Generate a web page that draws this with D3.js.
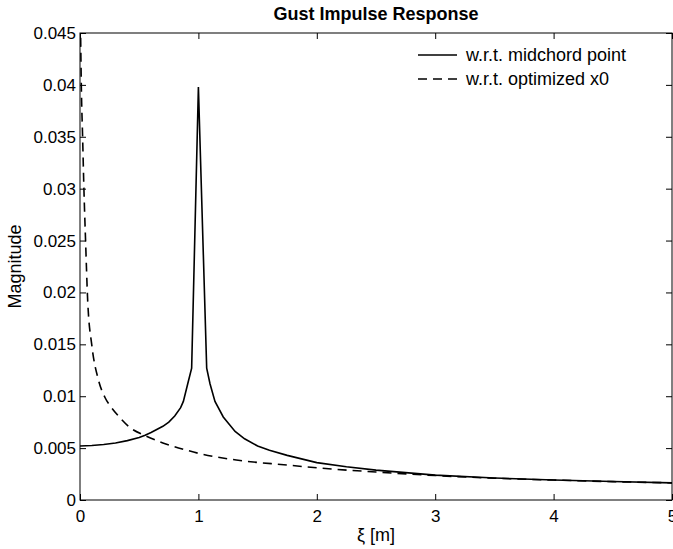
<!DOCTYPE html>
<html>
<head>
<meta charset="utf-8">
<script src="https://cdn.jsdelivr.net/npm/d3@7"></script>
<style>
  body { margin: 0; background: #fff; }
  svg { display: block; font-family: "Liberation Sans", Arial, sans-serif; }
  .tick-label { font-size: 17px; fill: #000; }
</style>
</head>
<body>
<div id="chart"></div>
<script>
// Values
const midX = [0, 0.1, 0.2, 0.3, 0.4, 0.5, 0.55, 0.6, 0.7, 0.75, 0.8, 0.85, 0.873, 0.91, 0.943, 1.0,
    1.07, 1.098, 1.14, 1.21, 1.31, 1.39, 1.5, 1.6, 1.75, 2.0, 2.25, 2.5, 3.0, 3.5, 4.0, 4.5, 5.0];
const midY = [0.0052, 0.00525, 0.00535, 0.0055, 0.00572, 0.00603, 0.00624, 0.0065, 0.0071, 0.0075, 0.0081, 0.0089, 0.0095, 0.0112, 0.0127, 0.0398,
    0.0127, 0.0112, 0.0095, 0.0080, 0.0066, 0.0059, 0.0052, 0.0048, 0.0043, 0.0036, 0.0032, 0.00288, 0.0024, 0.00212, 0.00193, 0.00178, 0.00165];

const optX = [0.004, 0.011, 0.022, 0.033, 0.047, 0.065, 0.1, 0.155, 0.21, 0.26, 0.324, 0.42, 0.55, 0.7, 0.9, 1.0,
    1.32, 1.75, 2.0, 2.5, 3.0, 3.5, 4.0, 4.5, 5.0];
const optY = [0.046, 0.040, 0.035, 0.030, 0.025, 0.0192, 0.0149, 0.0116, 0.0099, 0.0090, 0.0081, 0.0070, 0.0062, 0.0055, 0.0048, 0.0045,
    0.00385, 0.00337, 0.0031, 0.0027, 0.00236, 0.0021, 0.00192, 0.00177, 0.00165];

const xTicks = [0, 1, 2, 3, 4, 5];
const yTicks = [0, 0.005, 0.01, 0.015, 0.02, 0.025, 0.03, 0.035, 0.04, 0.045];
const legendLabels = ['w.r.t. midchord point', 'w.r.t. optimized x0'];

const W = 673, H = 549;
const margin = { top: 33, right: 1, bottom: 49, left: 80 };
const iw = W - margin.left - margin.right;
const ih = H - margin.top - margin.bottom;

const svg = d3.select('#chart').append('svg').attr('width', W).attr('height', H);

const x = d3.scaleLinear().domain([0, 5]).range([0, iw]);
const y = d3.scaleLinear().domain([0, 0.045]).range([ih, 0]);

const g = svg.append('g').attr('transform', `translate(${margin.left},${margin.top})`);

svg.append('defs').append('clipPath').attr('id', 'plot-clip')
    .append('rect').attr('width', iw).attr('height', ih);

const fmtY = d => d === 0 ? '0' : String(+d.toFixed(3));

// Axes: ticks point inward on all four sides
const tickLen = 6;
g.append('g').attr('transform', `translate(0,${ih})`)
    .call(d3.axisBottom(x).tickValues(xTicks).tickSizeInner(-tickLen).tickSizeOuter(0).tickPadding(10).tickFormat(d3.format('d')));
g.append('g').call(d3.axisTop(x).tickValues(xTicks).tickSizeInner(-tickLen).tickSizeOuter(0).tickFormat(''));
g.append('g')
    .call(d3.axisLeft(y).tickValues(yTicks).tickSizeInner(-tickLen).tickSizeOuter(0).tickPadding(4).tickFormat(fmtY));
g.append('g').attr('transform', `translate(${iw},0)`)
    .call(d3.axisRight(y).tickValues(yTicks).tickSizeInner(-tickLen).tickSizeOuter(0).tickFormat(''));

g.selectAll('.tick text').attr('class', 'tick-label').attr('font-family', null).attr('font-size', null);
g.selectAll('.domain').remove();
g.selectAll('.tick line').attr('stroke', '#000');

g.append('rect').attr('width', iw).attr('height', ih)
    .attr('fill', 'none').attr('stroke', '#000').attr('stroke-width', 1);

// Curves
const lineMid = d3.line().x(i => x(midX[i])).y(i => y(midY[i]));
const lineOpt = d3.line().x(i => x(optX[i])).y(i => y(optY[i])).curve(d3.curveMonotoneX);

const plot = g.append('g').attr('clip-path', 'url(#plot-clip)');
plot.append('path').attr('d', lineMid(d3.range(midX.length)))
    .attr('fill', 'none').attr('stroke', '#000').attr('stroke-width', 1.6);
plot.append('path').attr('d', lineOpt(d3.range(optX.length)))
    .attr('fill', 'none').attr('stroke', '#000').attr('stroke-width', 1.6).attr('stroke-dasharray', '9,6');

// Legend
const leg = svg.append('g').attr('transform', 'translate(418,55)');
legendLabels.forEach((lab, i) => {
    const row = leg.append('g').attr('transform', `translate(0,${i * 24})`);
    row.append('line').attr('x1', 0).attr('x2', 39).attr('y1', 0).attr('y2', 0)
        .attr('stroke', '#000').attr('stroke-width', 1.6)
        .attr('stroke-dasharray', i === 1 ? '9,6' : null);
    row.append('text').attr('x', 48).attr('y', 6).attr('font-size', 18).text(lab);
});

// Titles
svg.append('text').attr('x', margin.left + iw / 2).attr('y', 20)
    .attr('text-anchor', 'middle').attr('font-size', 18).attr('font-weight', 'bold')
    .text('Gust Impulse Response');
svg.append('text').attr('x', margin.left + iw / 2).attr('y', 541)
    .attr('text-anchor', 'middle').attr('font-size', 18).text('ξ [m]');
svg.append('text').attr('transform', `translate(21,${margin.top + ih / 2}) rotate(-90)`)
    .attr('text-anchor', 'middle').attr('font-size', 18).text('Magnitude');
</script>
</body>
</html>
